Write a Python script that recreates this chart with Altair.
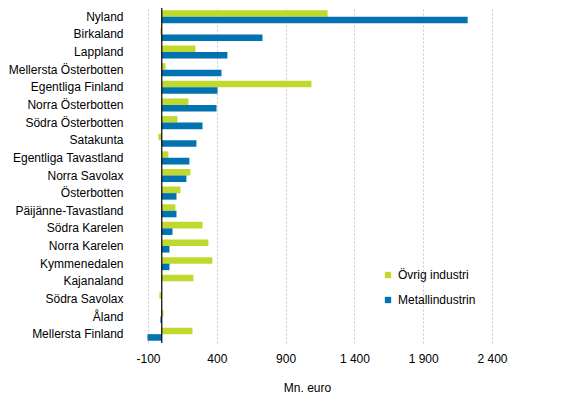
import altair as alt
import pandas as pd

regions = [
    "Nyland", "Birkaland", "Lappland", "Mellersta Österbotten", "Egentliga Finland",
    "Norra Österbotten", "Södra Österbotten", "Satakunta", "Egentliga Tavastland",
    "Norra Savolax", "Österbotten", "Päijänne-Tavastland", "Södra Karelen",
    "Norra Karelen", "Kymmenedalen", "Kajanaland", "Södra Savolax", "Åland",
    "Mellersta Finland",
]
ovrig = [1205, -10, 245, 27, 1088, 194, 114, -24, 48, 208, 136, 99, 296, 339, 368, 230, -17, 12, 223]
metall = [2223, 732, 477, 434, 405, 398, 296, 252, 201, 179, 107, 107, 78, 56, 56, 0, 0, -10, -104]
series = ["Övrig industri", "Metallindustrin"]
ticks = [-100, 400, 900, 1400, 1900, 2400]

rows = []
for i, r in enumerate(regions):
    rows.append({"region": r, "serie": series[0], "value": ovrig[i]})
    rows.append({"region": r, "serie": series[1], "value": metall[i]})
df = pd.DataFrame(rows)

font = "Liberation Sans"

bars = alt.Chart(df).mark_bar().encode(
    x=alt.X("value:Q",
            scale=alt.Scale(domain=[-100, 2400], nice=False, zero=False),
            axis=alt.Axis(values=ticks, title="Mn. euro", grid=True, gridDash=[2, 2],
                          gridColor="#c8c8c8", domain=False, ticks=False, labelFlush=False,
                          labelPadding=10, titlePadding=18, titleFontWeight="normal",
                          titleX=159,
                          labelExpr="replace(replace(format(datum.value, ','), ',', ' '), '−', '-')")),
    y=alt.Y("region:N", sort=regions,
            scale=alt.Scale(paddingInner=0.26, paddingOuter=0.13),
            axis=alt.Axis(title=None, domain=False, ticks=False, labelPadding=25)),
    yOffset=alt.YOffset("serie:N", sort=series),
    color=alt.Color("serie:N", sort=series,
                    scale=alt.Scale(domain=series, range=["#c1d82f", "#0073b0"]),
                    legend=alt.Legend(title=None, orient="none", legendX=234, legendY=261,
                                      symbolType="square", symbolSize=40, rowPadding=13,
                                      labelFontSize=12, labelFont=font)),
)

zero = alt.Chart(pd.DataFrame({"x": [0]})).mark_rule(color="black", strokeWidth=1.2).encode(
    x="x:Q"
)

chart = (bars + zero).properties(
    width=344, height=335,
    padding={"left": 140, "top": 0, "right": 60, "bottom": 60},
    autosize=alt.AutoSizeParams(type="none"),
).configure_view(stroke=None).configure_axis(
    labelFont=font, titleFont=font, labelFontSize=12, titleFontSize=12,
    labelColor="#000", titleColor="#000"
)

chart.save("out.html", embed_options={"renderer": "svg", "actions": False})
